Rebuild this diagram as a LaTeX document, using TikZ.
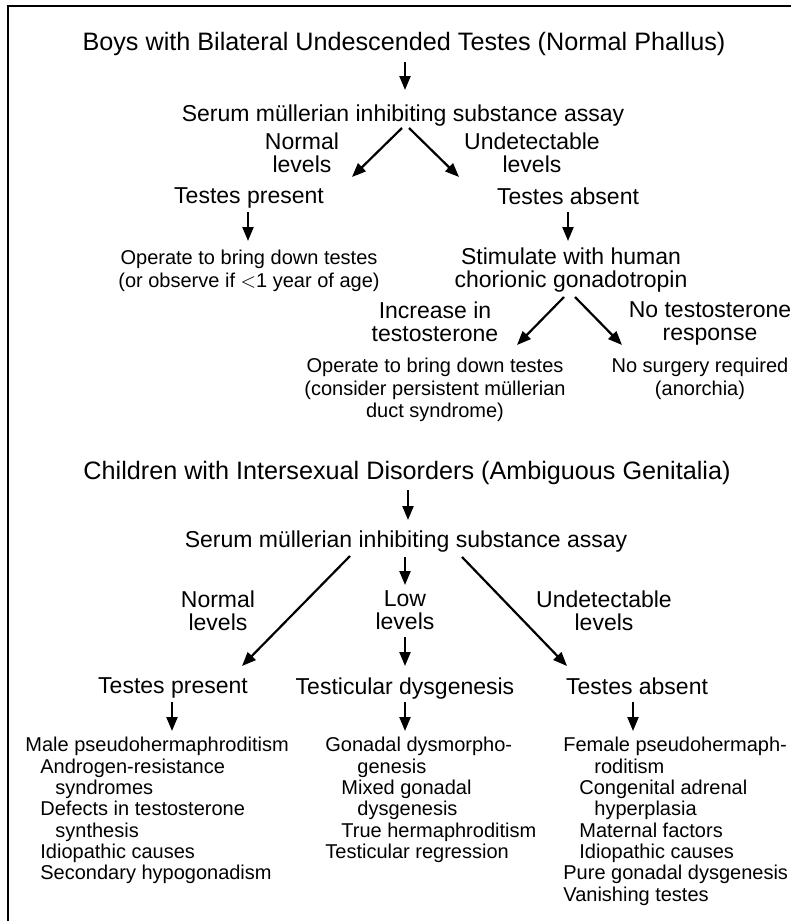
\documentclass[tikz,border=0pt]{standalone}
\usepackage{fontspec}
\setmainfont{Liberation Sans}
\usetikzlibrary{arrows.meta,calc}

\begin{document}
\begin{tikzpicture}[x=0.5pt,y=-0.5pt,
        head/.style={inner sep=0pt,anchor=north,font=\fontsize{12.6}{14}\selectfont},
        stage/.style={inner sep=0pt,anchor=north,align=center,font=\fontsize{11.5}{11.75}\selectfont},
        leaf/.style={inner sep=0pt,anchor=north,align=center,font=\fontsize{10}{11.25}\selectfont},
        cases/.style={inner sep=0pt,align=left,anchor=north west,font=\fontsize{10}{10.65}\selectfont},
        arr/.style={line width=1.1pt,-{Triangle[length=7pt,width=5.5pt]}}]
        \useasboundingbox (0,0) rectangle (791,921);
        \draw[line width=1pt] (8,921) -- (8,6) -- (791,6);
        % boys with undescended testes
        \node[head] (titleA) at (404,32) {Boys with Bilateral Undescended Testes (Normal Phallus)};
        \node[stage] (serumA) at (403,104) {Serum müllerian inhibiting substance assay};
        \node[stage] (normA) at (302,132) {Normal\\levels};
        \node[stage] (undetA) at (532,132) {Undetectable\\levels};
        \node[stage] (presentA) at (249,187) {Testes present};
        \node[stage] (absentA) at (568,187) {Testes absent};
        \node[leaf] (operA) at (249,250) {Operate to bring down testes\\(or observe if $<$1 year of age)};
        \node[stage] (stimA) at (571,247) {Stimulate with human\\chorionic gonadotropin};
        \node[stage] (incA) at (435,301) {Increase in\\testosterone};
        \node[stage] (noresA) at (710,301) {No testosterone\\response};
        \node[leaf] (operB) at (435,358) {Operate to bring down testes\\(consider persistent müllerian\\duct syndrome)};
        \node[leaf] (nosurgA) at (700,358) {No surgery required\\(anorchia)};
        \draw[arr] ($(titleA.north)+(1,30)$) -- ($(serumA.north)+(2,-14)$);
        \draw[arr] ($(serumA.north)+(-1,24)$) -- ($(presentA.north)+(103,-10)$);
        \draw[arr] ($(serumA.north)+(6,24)$) -- ($(absentA.north)+(-109,-10)$);
        \draw[arr] ($(presentA.north)+(-1,25)$) -- ($(operA.north)+(-1,-9)$);
        \draw[arr] ($(absentA.north)+(0,25)$) -- ($(stimA.north)+(-3,-6)$);
        \draw[arr] ($(stimA.north)+(-7,50)$) -- ($(operB.north)+(82,-13)$);
        \draw[arr] ($(stimA.north)+(4,50)$) -- ($(nosurgA.north)+(-78,-13)$);
        % children with ambiguous genitalia
        \node[head] (titleB) at (407,461) {Children with Intersexual Disorders (Ambiguous Genitalia)};
        \node[stage] (serumB) at (406,530) {Serum müllerian inhibiting substance assay};
        \node[stage] (normB) at (218,590) {Normal\\levels};
        \node[stage] (lowB) at (405,590) {Low\\levels};
        \node[stage] (undetB) at (604,590) {Undetectable\\levels};
        \node[stage] (presentB) at (173,677) {Testes present};
        \node[stage] (dysgB) at (405,677) {Testicular dysgenesis};
        \node[stage] (absentB) at (637,677) {Testes absent};
        \node[cases] (maleB) at (25,737) {Male pseudohermaphroditism\\
            \hspace*{7.5pt}Androgen-resistance\\
            \hspace*{15pt}syndromes\\
            \hspace*{7.5pt}Defects in testosterone\\
            \hspace*{15pt}synthesis\\
            \hspace*{7.5pt}Idiopathic causes\\
            \hspace*{7.5pt}Secondary hypogonadism};
        \node[cases] (gonadB) at (325,737) {Gonadal dysmorpho-\\
            \hspace*{16pt}genesis\\
            \hspace*{8pt}Mixed gonadal\\
            \hspace*{16pt}dysgenesis\\
            \hspace*{8pt}True hermaphroditism\\
            Testicular regression};
        \node[cases] (femaleB) at (563,737) {Female pseudohermaph-\\
            \hspace*{15.5pt}roditism\\
            \hspace*{8pt}Congenital adrenal\\
            \hspace*{15.5pt}hyperplasia\\
            \hspace*{8pt}Maternal factors\\
            \hspace*{8pt}Idiopathic causes\\
            Pure gonadal dysgenesis\\
            Vanishing testes};
        \draw[arr] ($(titleB.north)+(1,29)$) -- ($(serumB.north)+(2,-10)$);
        \draw[arr] ($(serumB.north)+(-56,26)$) -- ($(presentB.north)+(69,-11)$);
        \draw[arr] ($(serumB.north)+(-1,27)$) -- ($(lowB.north)+(0,-5)$);
        \draw[arr] ($(lowB.north)+(0,47)$) -- ($(dysgB.north)+(0,-11)$);
        \draw[arr] ($(serumB.north)+(56,27)$) -- ($(absentB.north)+(-70,-11)$);
        \draw[arr] ($(presentB.north)+(-1,25)$) -- ($(maleB.north west)+(147,-6)$);
        \draw[arr] ($(dysgB.north)+(0,25)$) -- ($(gonadB.north west)+(80,-6)$);
        \draw[arr] ($(absentB.north)+(-4,25)$) -- ($(femaleB.north west)+(70,-6)$);
\end{tikzpicture}
\end{document}
